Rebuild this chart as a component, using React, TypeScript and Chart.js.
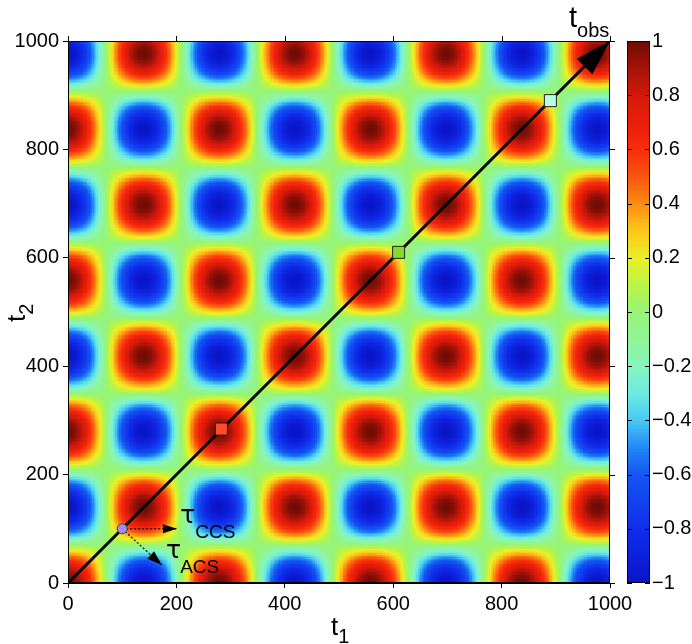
import React, { useEffect, useRef } from "react";
import { Chart, registerables } from "chart.js";

Chart.register(...registerables);

// ---- data ----
const xTicks = [0, 200, 400, 600, 800, 1000];
const yTicks = [0, 200, 400, 600, 800, 1000];
const colorTicks = [-1, -0.8, -0.6, -0.4, -0.2, 0, 0.2, 0.4, 0.6, 0.8, 1];
const axisRange = [0, 1000];
const fieldPeriod = 279; // oscillation period along t1 and t2 (blob spacing ~140)
const gridStep = 2.5; // heat-map cell size in data units
// colour-bar stops
const cmapValues = [-1, -0.8, -0.6, -0.5, -0.4, -0.3, -0.2, -0.1, 0, 0.1, 0.2, 0.3, 0.4, 0.5, 0.6, 0.7, 0.8, 0.9, 1];
const cmapColors: [number, number, number][] = [
  [10, 20, 200],
  [15, 45, 235],
  [20, 85, 242],
  [35, 135, 246],
  [70, 200, 246],
  [110, 235, 225],
  [135, 245, 190],
  [145, 245, 150],
  [150, 245, 120],
  [185, 245, 70],
  [235, 240, 40],
  [252, 200, 25],
  [252, 140, 20],
  [250, 85, 15],
  [248, 45, 12],
  [235, 30, 10],
  [212, 25, 10],
  [165, 18, 8],
  [110, 12, 5],
];
const diagonalLine = [
  { x: 0, y: 0 },
  { x: 1000, y: 1000 },
];
const markerPoints = [
  { x: 283, y: 284 },
  { x: 610, y: 610 },
  { x: 890, y: 890 },
];
const markerColors = ["#ff4a2c", "#84d82e", "#b6ffe4"];
const originPoint = [{ x: 100, y: 100 }];
const ccsArrow = [
  { x: 100, y: 100 },
  { x: 201, y: 100 },
];
const acsArrow = [
  { x: 100, y: 100 },
  { x: 173, y: 33 },
];
const ccsLabel = { x: 207, y: 111, main: "τ", sub: "CCS" };
const acsLabel = { x: 181, y: 46, main: "τ", sub: "ACS" };

const FONT = "'Liberation Sans', Arial, Helvetica, sans-serif";
const GREEK = "'DejaVu Sans', 'Liberation Sans', sans-serif";

function cmap(v: number): [number, number, number] {
  const x = Math.max(-1, Math.min(1, v));
  for (let i = 0; i < cmapValues.length - 1; i++) {
    const a = cmapValues[i];
    const b = cmapValues[i + 1];
    if (x <= b || i === cmapValues.length - 2) {
      const f = (x - a) / (b - a);
      const c0 = cmapColors[i];
      const c1 = cmapColors[i + 1];
      return [
        Math.round(c0[0] + (c1[0] - c0[0]) * f),
        Math.round(c0[1] + (c1[1] - c0[1]) * f),
        Math.round(c0[2] + (c1[2] - c0[2]) * f),
      ];
    }
  }
  return cmapColors[cmapColors.length - 1];
}

function fieldValue(t1: number, t2: number) {
  return (
    Math.cos((2 * Math.PI * t1) / fieldPeriod) *
    Math.cos((2 * Math.PI * t2) / fieldPeriod)
  );
}

function arrowHead(
  ctx: CanvasRenderingContext2D,
  fx: number,
  fy: number,
  tx: number,
  ty: number,
  len: number,
  half: number
) {
  const a = Math.atan2(ty - fy, tx - fx);
  const bx = tx - len * Math.cos(a);
  const by = ty - len * Math.sin(a);
  ctx.beginPath();
  ctx.moveTo(tx, ty);
  ctx.lineTo(bx + half * Math.sin(a), by - half * Math.cos(a));
  ctx.lineTo(bx - half * Math.sin(a), by + half * Math.cos(a));
  ctx.closePath();
  ctx.fill();
}

function subText(
  ctx: CanvasRenderingContext2D,
  x: number,
  y: number,
  main: string,
  sub: string,
  mainFont: string,
  subFont: string,
  dy: number,
  gap = 0
) {
  ctx.font = mainFont;
  ctx.textAlign = "left";
  ctx.textBaseline = "alphabetic";
  ctx.fillText(main, x, y);
  const w = ctx.measureText(main).width;
  ctx.font = subFont;
  ctx.fillText(sub, x + w + gap, y + dy);
}

const heatmapPlugin = {
  id: "heatmap",
  beforeDatasetsDraw(chart: any) {
    const { ctx, chartArea } = chart;
    const xs = chart.scales.x;
    const ys = chart.scales.y;
    const n = Math.round((axisRange[1] - axisRange[0]) / gridStep);
    const xp: number[] = [];
    const yp: number[] = [];
    for (let i = 0; i <= n; i++) {
      const t = axisRange[0] + i * gridStep;
      xp.push(Math.round(xs.getPixelForValue(t)));
      yp.push(Math.round(ys.getPixelForValue(t)));
    }
    ctx.save();
    ctx.beginPath();
    ctx.rect(chartArea.left, chartArea.top, chartArea.width, chartArea.height);
    ctx.clip();
    for (let i = 0; i < n; i++) {
      const t1 = axisRange[0] + (i + 0.5) * gridStep;
      for (let j = 0; j < n; j++) {
        const t2 = axisRange[0] + (j + 0.5) * gridStep;
        const [r, g, b] = cmap(fieldValue(t1, t2));
        ctx.fillStyle = `rgb(${r},${g},${b})`;
        ctx.fillRect(xp[i], yp[j + 1], xp[i + 1] - xp[i], yp[j] - yp[j + 1]);
      }
    }
    ctx.restore();
  },
  afterDatasetsDraw(chart: any) {
    const { ctx, chartArea } = chart;
    const xs = chart.scales.x;
    const ys = chart.scales.y;
    const yc = chart.scales.yc;
    const P = (p: { x: number; y: number }) => [
      xs.getPixelForValue(p.x),
      ys.getPixelForValue(p.y),
    ];
    ctx.save();
    ctx.fillStyle = "#000";
    // main diagonal arrow head
    const [a0x, a0y] = P(diagonalLine[0]);
    const [a1x, a1y] = P(diagonalLine[1]);
    arrowHead(ctx, a0x, a0y, a1x, a1y, 36, 11);
    // small dotted arrows
    const [c0x, c0y] = P(ccsArrow[0]);
    const [c1x, c1y] = P(ccsArrow[1]);
    arrowHead(ctx, c0x, c0y, c1x, c1y, 14, 4.5);
    const [d0x, d0y] = P(acsArrow[0]);
    const [d1x, d1y] = P(acsArrow[1]);
    arrowHead(ctx, d0x, d0y, d1x, d1y, 15, 5);

    // plot box & mirrored ticks
    ctx.strokeStyle = "#000";
    ctx.lineWidth = 1;
    ctx.strokeRect(
      chartArea.left + 0.5,
      chartArea.top + 0.5,
      chartArea.width - 1,
      chartArea.height - 1
    );
    ctx.beginPath();
    xTicks.forEach((t) => {
      const x = Math.round(xs.getPixelForValue(t)) + 0.5;
      ctx.moveTo(x, chartArea.top);
      ctx.lineTo(x, chartArea.top - 5);
    });
    yTicks.forEach((t) => {
      const y = Math.round(ys.getPixelForValue(t)) + 0.5;
      ctx.moveTo(chartArea.right, y);
      ctx.lineTo(chartArea.right + 5, y);
    });
    ctx.stroke();

    // colour bar
    const bx = chartArea.right + 17;
    const bw = 23;
    const steps = 400;
    for (let k = 0; k < steps; k++) {
      const v0 = -1 + (2 * k) / steps;
      const v1 = -1 + (2 * (k + 1)) / steps;
      const yA = yc.getPixelForValue(v0);
      const yB = yc.getPixelForValue(v1);
      const [r, g, b] = cmap((v0 + v1) / 2);
      ctx.fillStyle = `rgb(${r},${g},${b})`;
      ctx.fillRect(bx, Math.floor(yB), bw, Math.ceil(yA) - Math.floor(yB));
    }
    const cTop = yc.getPixelForValue(1);
    const cBot = yc.getPixelForValue(-1);
    ctx.strokeStyle = "#000";
    ctx.strokeRect(bx + 0.5, Math.round(cTop) + 0.5, bw - 1, Math.round(cBot - cTop) - 1);
    ctx.beginPath();
    colorTicks.forEach((v) => {
      const y = Math.round(yc.getPixelForValue(v)) + 0.5;
      ctx.moveTo(bx, y);
      ctx.lineTo(bx + 5, y);
      ctx.moveTo(bx + bw - 5, y);
      ctx.lineTo(bx + bw, y);
    });
    ctx.stroke();
    ctx.restore();
  },
  afterDraw(chart: any) {
    const { ctx, chartArea } = chart;
    const xs = chart.scales.x;
    const ys = chart.scales.y;
    ctx.save();
    ctx.fillStyle = "#000";
    // axis titles
    subText(ctx, 331, 635, "t", "1", `26px ${FONT}`, `20px ${FONT}`, 8);
    ctx.save();
    ctx.translate(25, 322);
    ctx.rotate(-Math.PI / 2);
    subText(ctx, 0, 0, "t", "2", `26px ${FONT}`, `20px ${FONT}`, 8);
    ctx.restore();
    // t_obs
    subText(ctx, chartArea.right - 41, 27, "t", "obs", `29px ${FONT}`, `20px ${FONT}`, 10);
    // tau labels
    subText(
      ctx,
      xs.getPixelForValue(ccsLabel.x),
      ys.getPixelForValue(ccsLabel.y),
      ccsLabel.main,
      ccsLabel.sub,
      `25px ${GREEK}`,
      `19px ${FONT}`,
      15,
      0
    );
    subText(
      ctx,
      xs.getPixelForValue(acsLabel.x),
      ys.getPixelForValue(acsLabel.y),
      acsLabel.main,
      acsLabel.sub,
      `25px ${GREEK}`,
      `19px ${FONT}`,
      15,
      -1
    );
    ctx.restore();
  },
};

function fmt(v: number) {
  const r = Math.round(v * 10) / 10;
  const s = String(Math.abs(r));
  return r < 0 ? "\u2212" + s : s;
}

function zeroPad(s: any) {
  s.paddingTop = 0;
  s.paddingBottom = 0;
  s.paddingLeft = 0;
  s.paddingRight = 0;
}

export default function App() {
  const ref = useRef<HTMLCanvasElement>(null);
  useEffect(() => {
    if (!ref.current) return;
    Chart.defaults.font.family = FONT;
    const tickFont = { size: 20, family: FONT };
    const chart = new Chart(ref.current, {
      type: "scatter",
      data: {
        datasets: [
          {
            data: originPoint,
            pointStyle: "circle",
            pointRadius: 5,
            backgroundColor: "#a58cf2",
            borderColor: "#444",
            borderWidth: 1,
          },
          {
            data: markerPoints,
            pointStyle: "rect",
            pointRadius: 8.5,
            backgroundColor: markerColors,
            borderColor: "#222",
            borderWidth: 1,
          },
          {
            type: "line",
            data: ccsArrow,
            borderColor: "#000",
            borderWidth: 1.2,
            borderDash: [2, 2],
            pointRadius: 0,
            showLine: true,
          } as any,
          {
            type: "line",
            data: acsArrow,
            borderColor: "#000",
            borderWidth: 1.2,
            borderDash: [2, 2],
            pointRadius: 0,
            showLine: true,
          } as any,
          {
            type: "line",
            data: diagonalLine,
            borderColor: "#000",
            borderWidth: 3,
            pointRadius: 0,
            showLine: true,
          } as any,
        ],
      },
      options: {
        animation: false,
        responsive: false,
        maintainAspectRatio: false,
        layout: { padding: { top: 41, left: 0, right: 0, bottom: 0 } },
        plugins: {
          legend: { display: false },
          tooltip: { enabled: false },
        },
        scales: {
          x: {
            type: "linear",
            position: "bottom",
            min: axisRange[0],
            max: axisRange[1],
            afterBuildTicks: (s: any) => {
              s.ticks = xTicks.map((v) => ({ value: v }));
            },
            afterFit: (s: any) => {
              s.height = 61;
              zeroPad(s);
            },
            ticks: {
              color: "#000",
              font: tickFont,
              padding: 4,
              maxRotation: 0,
              autoSkip: false,
              callback: (v: any) => String(v),
            },
            grid: {
              display: true,
              drawOnChartArea: false,
              drawTicks: true,
              tickLength: 5,
              color: "#000",
              tickColor: "#000",
            },
            border: { display: true, color: "#000", width: 1 },
          },
          y: {
            type: "linear",
            position: "left",
            min: axisRange[0],
            max: axisRange[1],
            afterBuildTicks: (s: any) => {
              s.ticks = yTicks.map((v) => ({ value: v }));
            },
            afterFit: (s: any) => {
              s.width = 68;
              zeroPad(s);
            },
            ticks: {
              color: "#000",
              font: tickFont,
              padding: 4,
              autoSkip: false,
              callback: (v: any) => String(v),
            },
            grid: {
              display: true,
              drawOnChartArea: false,
              drawTicks: true,
              tickLength: 5,
              color: "#000",
              tickColor: "#000",
            },
            border: { display: true, color: "#000", width: 1 },
          },
          yc: {
            type: "linear",
            position: "right",
            min: -1,
            max: 1,
            afterBuildTicks: (s: any) => {
              s.ticks = colorTicks.map((v) => ({ value: v }));
            },
            afterFit: (s: any) => {
              s.width = 82;
              zeroPad(s);
            },
            ticks: {
              color: "#000",
              font: tickFont,
              padding: 42,
              autoSkip: false,
              callback: (v: any) => fmt(Number(v)),
            },
            grid: { display: false, drawTicks: false, drawOnChartArea: false },
            border: { display: false },
          },
        },
      } as any,
      plugins: [heatmapPlugin],
    });
    return () => chart.destroy();
  }, []);
  return (
    <div
      style={{
        position: "fixed",
        left: 0,
        top: 0,
        width: 692,
        height: 644,
        background: "#fff",
      }}
    >
      <canvas ref={ref} width={692} height={644} style={{ display: "block" }} />
    </div>
  );
}
